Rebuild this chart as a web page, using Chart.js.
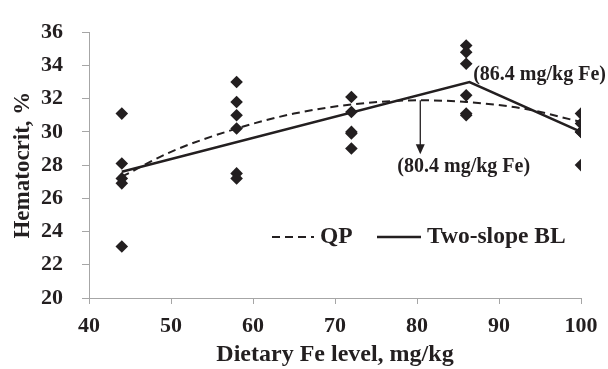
<!DOCTYPE html>
<html lang="en">
<head>
    <meta charset="UTF-8">
    <title>Hematocrit vs dietary Fe</title>
    <script src="https://cdn.jsdelivr.net/npm/chart.js"></script>
    <style>
        body { margin: 0; background: #fff; }
        .wrap { position: relative; width: 608px; height: 369px; }
    </style>
</head>
<body>
<div class="wrap"><canvas id="chart"></canvas></div>
<script>
// observed hematocrit per dose
const doses = [44, 58, 72, 86, 100];
const hct44 = [31.1, 28.1, 27.2, 26.9, 23.1];
const hct58 = [33.0, 31.8, 31.0, 30.2, 27.5, 27.2];
const hct72 = [32.1, 31.2, 30.0, 29.9, 29.0];
const hct86 = [35.2, 34.8, 34.1, 32.2, 31.1, 31.0];
const hct100 = [31.1, 30.5, 30.0, 30.0, 28.0];

// fitted curves
const qpX = [44, 50, 58, 65, 72, 80.4, 86, 93, 100];
const qpY = [27.3, 28.8, 30.2, 31.1, 31.65, 31.9, 31.8, 31.4, 30.6];
const blX = [44, 86.4, 100];
const blY = [27.6, 33.0, 30.0];

const xTicks = [40, 50, 60, 70, 80, 90, 100];
const yTicks = [20, 22, 24, 26, 28, 30, 32, 34, 36];

const allHct = [hct44, hct58, hct72, hct86, hct100];
const points = [];
doses.forEach((d, i) => allHct[i].forEach(v => points.push({x: d, y: v})));

const serif = "'Liberation Serif', 'Times New Roman', serif";
const axisGray = '#a6a6a6';

// legend + breakpoint labels
const extras = {
    id: 'extras',
    afterDatasetsDraw(chart) {
        const ctx = chart.ctx;
        const xs = chart.scales.x, ys = chart.scales.y;
        ctx.save();
        ctx.fillStyle = '#231f20';
        ctx.strokeStyle = '#231f20';
        ctx.font = 'bold 20px ' + serif;
        ctx.textBaseline = 'middle';
        ctx.textAlign = 'left';
        ctx.fillText('(86.4 mg/kg Fe)', xs.getPixelForValue(86.85), ys.getPixelForValue(33.45));
        ctx.fillText('(80.4 mg/kg Fe)', xs.getPixelForValue(77.6), ys.getPixelForValue(27.9));

        // arrow at QP max
        const ax = xs.getPixelForValue(80.4);
        const aTop = ys.getPixelForValue(31.9);
        const aBot = ys.getPixelForValue(28.65);
        ctx.lineWidth = 1.3;
        ctx.beginPath();
        ctx.moveTo(ax, aTop);
        ctx.lineTo(ax, aBot - 9);
        ctx.stroke();
        ctx.beginPath();
        ctx.moveTo(ax - 4.5, aBot - 10);
        ctx.lineTo(ax + 4.5, aBot - 10);
        ctx.lineTo(ax, aBot);
        ctx.closePath();
        ctx.fill();

        // legend
        const ly = 237;
        ctx.font = 'bold 23.5px ' + serif;
        ctx.lineWidth = 2;
        ctx.setLineDash([8, 5]);
        ctx.beginPath();
        ctx.moveTo(272, ly);
        ctx.lineTo(314, ly);
        ctx.stroke();
        ctx.setLineDash([]);
        ctx.fillText('QP', 320, ly);
        ctx.lineWidth = 2.5;
        ctx.beginPath();
        ctx.moveTo(377, ly);
        ctx.lineTo(421, ly);
        ctx.stroke();
        ctx.fillText('Two-slope BL', 427, ly);
        ctx.restore();
    }
};

new Chart(document.getElementById('chart'), {
    type: 'scatter',
    data: {
        datasets: [{
            label: 'Observed',
            data: points,
            pointStyle: 'rectRot',
            pointRadius: 6.3,
            backgroundColor: '#231f20',
            borderColor: '#231f20',
            borderWidth: 0,
            order: 0
        }, {
            label: 'QP',
            type: 'line',
            data: qpX.map((x, i) => ({x: x, y: qpY[i]})),
            borderColor: '#231f20',
            borderWidth: 2,
            borderDash: [8, 5],
            pointRadius: 0,
            cubicInterpolationMode: 'monotone',
            fill: false,
            order: 1
        }, {
            label: 'Two-slope BL',
            type: 'line',
            data: blX.map((x, i) => ({x: x, y: blY[i]})),
            borderColor: '#231f20',
            borderWidth: 2.5,
            pointRadius: 0,
            tension: 0,
            fill: false,
            order: 1
        }]
    },
    options: {
        responsive: true,
        maintainAspectRatio: false,
        animation: false,
        layout: { padding: { left: 0, top: 19, right: 27, bottom: 0 } },
        plugins: { legend: { display: false }, tooltip: { enabled: false } },
        scales: {
            x: {
                type: 'linear',
                min: 40, max: 100,
                afterFit(scale) { scale.height = 71; },
                afterBuildTicks(scale) { scale.ticks = xTicks.map(v => ({value: v})); },
                grid: { drawOnChartArea: false, drawTicks: true, tickLength: 6, color: axisGray },
                border: { display: true, color: axisGray, width: 1 },
                ticks: { color: '#231f20', padding: 9, maxRotation: 0,
                         font: { family: serif, size: 22, weight: 'bold' } },
                title: { display: true, text: 'Dietary Fe level, mg/kg', color: '#231f20',
                         padding: { top: 0, bottom: 2 },
                         font: { family: serif, size: 24, weight: 'bold', lineHeight: 1 } }
            },
            y: {
                type: 'linear',
                min: 20, max: 36,
                afterFit(scale) { scale.width = 89; },
                afterBuildTicks(scale) { scale.ticks = yTicks.map(v => ({value: v})); },
                grid: { drawOnChartArea: false, drawTicks: true, tickLength: 7, color: axisGray },
                border: { display: true, color: axisGray, width: 1 },
                ticks: { color: '#231f20', padding: 19,
                         font: { family: serif, size: 22, weight: 'bold' } },
                title: { display: true, text: 'Hematocrit, %', color: '#231f20',
                         padding: { top: 12, bottom: 0 },
                         font: { family: serif, size: 23, weight: 'bold', lineHeight: 1 } }
            }
        }
    },
    plugins: [extras]
});
</script>
</body>
</html>
